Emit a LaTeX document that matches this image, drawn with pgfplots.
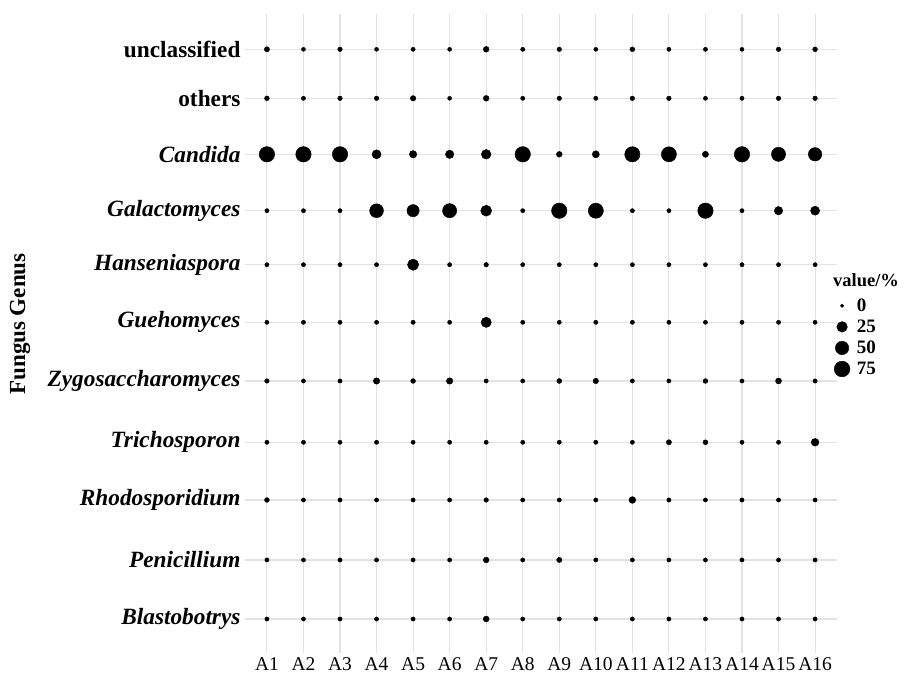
\documentclass[border=0pt]{standalone}
\usepackage{pgfplots}
\usepackage{pgfplotstable}
\pgfplotsset{compat=1.18}
\usepackage{fontspec}
\setmainfont{Liberation Serif}

% y = row position of each genus (Blastobotrys bottom ... unclassified top)
\pgfplotstableread[row sep=\\]{
x y v \\
1 11 1.4 \\ 2 11 0.1 \\ 3 11 0.5 \\ 4 11 0.1 \\ 5 11 0.2 \\ 6 11 0.1 \\ 7 11 2.5 \\ 8 11 0.2 \\ 9 11 0.5 \\ 10 11 0.1 \\ 11 11 0.8 \\ 12 11 0.2 \\ 13 11 0.2 \\ 14 11 0.1 \\ 15 11 0.5 \\ 16 11 0.8 \\
1 10.140 0.8 \\ 2 10.140 0.2 \\ 3 10.140 0.5 \\ 4 10.140 0.5 \\ 5 10.140 1.8 \\ 6 10.140 0.1 \\ 7 10.140 2.5 \\ 8 10.140 0.2 \\ 9 10.140 0.5 \\ 10 10.140 0.2 \\ 11 10.140 0.5 \\ 12 10.140 0.5 \\ 13 10.140 0.2 \\ 14 10.140 0.2 \\ 15 10.140 0.5 \\ 16 10.140 0.5 \\
1 9.157 72 \\ 2 9.157 72 \\ 3 9.157 72 \\ 4 9.157 15.5 \\ 5 9.157 7.6 \\ 6 9.157 12 \\ 7 9.157 19 \\ 8 9.157 72 \\ 9 9.157 2.5 \\ 10 9.157 6.5 \\ 11 9.157 70 \\ 12 9.157 68 \\ 13 9.157 3.5 \\ 14 9.157 72 \\ 15 9.157 57.5 \\ 16 9.157 50 \\
1 8.167 0.2 \\ 2 8.167 0.2 \\ 3 8.167 0.2 \\ 4 8.167 54 \\ 5 8.167 38.5 \\ 6 8.167 57.5 \\ 7 8.167 28 \\ 8 8.167 0.2 \\ 9 8.167 72 \\ 10 8.167 68.5 \\ 11 8.167 0.2 \\ 12 8.167 0.2 \\ 13 8.167 72 \\ 14 8.167 0.2 \\ 15 8.167 12 \\ 16 8.167 15.5 \\
1 7.219 0.2 \\ 2 7.219 0.2 \\ 3 7.219 0.2 \\ 4 7.219 0.2 \\ 5 7.219 30 \\ 6 7.219 0.2 \\ 7 7.219 0.5 \\ 8 7.219 0.2 \\ 9 7.219 0.2 \\ 10 7.219 0.2 \\ 11 7.219 0.2 \\ 12 7.219 0.2 \\ 13 7.219 0.2 \\ 14 7.219 0.2 \\ 15 7.219 0.2 \\ 16 7.219 0.2 \\
1 6.208 0.2 \\ 2 6.208 0.2 \\ 3 6.208 0.2 \\ 4 6.208 0.2 \\ 5 6.208 0.3 \\ 6 6.208 0.2 \\ 7 6.208 23 \\ 8 6.208 0.2 \\ 9 6.208 0.2 \\ 10 6.208 0.2 \\ 11 6.208 0.2 \\ 12 6.208 0.2 \\ 13 6.208 0.2 \\ 14 6.208 0.2 \\ 15 6.208 0.2 \\ 16 6.208 0.2 \\
1 5.178 0.5 \\ 2 5.178 0.2 \\ 3 5.178 0.2 \\ 4 5.178 4.3 \\ 5 5.178 0.8 \\ 6 5.178 4.3 \\ 7 5.178 0.2 \\ 8 5.178 0.2 \\ 9 5.178 1.0 \\ 10 5.178 1.9 \\ 11 5.178 0.2 \\ 12 5.178 0.2 \\ 13 5.178 0.8 \\ 14 5.178 0.2 \\ 15 5.178 3.0 \\ 16 5.178 0.3 \\
1 4.102 0.2 \\ 2 4.102 0.2 \\ 3 4.102 0.2 \\ 4 4.102 0.2 \\ 5 4.102 0.2 \\ 6 4.102 0.2 \\ 7 4.102 0.2 \\ 8 4.102 0.2 \\ 9 4.102 0.2 \\ 10 4.102 0.2 \\ 11 4.102 0.2 \\ 12 4.102 1.4 \\ 13 4.102 1.0 \\ 14 4.102 0.2 \\ 15 4.102 0.2 \\ 16 4.102 9 \\
1 3.089 0.8 \\ 2 3.089 0.2 \\ 3 3.089 0.2 \\ 4 3.089 0.2 \\ 5 3.089 0.2 \\ 6 3.089 0.2 \\ 7 3.089 0.5 \\ 8 3.089 0.2 \\ 9 3.089 0.2 \\ 10 3.089 0.2 \\ 11 3.089 5.2 \\ 12 3.089 0.2 \\ 13 3.089 0.2 \\ 14 3.089 0.2 \\ 15 3.089 0.2 \\ 16 3.089 0.2 \\
1 2.036 0.2 \\ 2 2.036 0.2 \\ 3 2.036 0.2 \\ 4 2.036 0.2 \\ 5 2.036 0.2 \\ 6 2.036 0.2 \\ 7 2.036 2.5 \\ 8 2.036 0.2 \\ 9 2.036 1.4 \\ 10 2.036 0.2 \\ 11 2.036 0.2 \\ 12 2.036 0.2 \\ 13 2.036 0.2 \\ 14 2.036 0.2 \\ 15 2.036 0.2 \\ 16 2.036 0.2 \\
1 1 0.2 \\ 2 1 0.2 \\ 3 1 0.2 \\ 4 1 0.2 \\ 5 1 0.2 \\ 6 1 0.2 \\ 7 1 3.0 \\ 8 1 0.2 \\ 9 1 0.2 \\ 10 1 0.2 \\ 11 1 0.2 \\ 12 1 0.2 \\ 13 1 0.2 \\ 14 1 0.2 \\ 15 1 0.2 \\ 16 1 0.2 \\
}\bubbles

\definecolor{gridgray}{HTML}{E2E2E2}

\begin{document}
\begin{tikzpicture}
\useasboundingbox (0,0) rectangle (915pt,678pt);
\begin{axis}[
  at={(245pt,25pt)}, anchor=south west,
  scale only axis, width=592pt, height=639pt,
  xmin=0.4, xmax=16.6, ymin=0.403, ymax=11.62,
  xtick={1,...,16},
  xticklabels={A1,A2,A3,A4,A5,A6,A7,A8,A9,A10,A11,A12,A13,A14,A15,A16},
  ytick={1,2.036,3.089,4.102,5.178,6.208,7.219,8.167,9.157,10.140,11},
  yticklabels={\textit{Blastobotrys},\textit{Penicillium},\textit{Rhodosporidium},\textit{Trichosporon},\textit{Zygosaccharomyces},\textit{Guehomyces},\textit{Hanseniaspora},\textit{Galactomyces},\textit{Candida},others,unclassified},
  xticklabel style={font=\fontsize{19.5}{20}\selectfont, inner sep=0pt, yshift=-4pt},
  yticklabel style={font=\fontsize{23.3}{25}\selectfont\bfseries, xshift=-1pt},
  xmajorgrids, ymajorgrids,
  grid style={color=gridgray, line width=1.1pt},
  axis line style={draw=none},
  major tick length=0pt,
  legend style={draw=none, fill=none, at={(0.9899,0.494)}, anchor=west,
    font=\fontsize{19}{21}\selectfont\bfseries, cells={anchor=west}, row sep=3pt,
    /tikz/every odd column/.append style={column sep=5pt}},
  clip=false,
]
\addplot[only marks, mark=*, black, scatter,
  scatter/use mapped color={draw=black, fill=black},
  visualization depends on={1.8+0.70*sqrt(\thisrow{v}) \as \rad},
  scatter/@pre marker code/.append style={/tikz/mark size=\rad},
  forget plot] table[x=x, y=y] {\bubbles};
\addlegendimage{only marks, mark=*, black, mark size=1.8pt}
\addlegendentry{0}
\addlegendimage{only marks, mark=*, black, mark size=5.3pt}
\addlegendentry{25}
\addlegendimage{only marks, mark=*, black, mark size=6.75pt}
\addlegendentry{50}
\addlegendimage{only marks, mark=*, black, mark size=7.86pt}
\addlegendentry{75}
\end{axis}
\node[anchor=west, font=\fontsize{18.5}{20}\selectfont\bfseries, inner sep=0pt] at (833pt,398pt) {value/\%};
\node[rotate=90, font=\fontsize{23}{25}\selectfont\bfseries, inner sep=0pt] at (20pt,354pt) {Fungus Genus};
\end{tikzpicture}
\end{document}
